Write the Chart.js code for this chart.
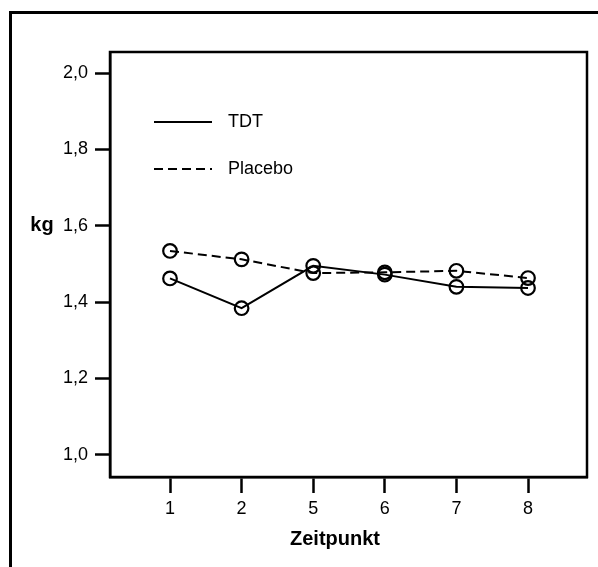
<!DOCTYPE html>
<html><head><meta charset="utf-8">
<script src="https://cdn.jsdelivr.net/npm/chart.js@4/dist/chart.umd.min.js"></script>
<style>html,body{margin:0;padding:0;background:#fff;overflow:hidden}#wrap{width:598px;height:567px;position:relative}</style>
</head><body><div id="wrap"><canvas id="c" width="598" height="567"></canvas></div>
<script>
const categories = ['1', '2', '5', '6', '7', '8'];
const tdtValues = [1.462, 1.384, 1.495, 1.472, 1.440, 1.437];
const placeboValues = [1.534, 1.512, 1.476, 1.478, 1.482, 1.463];
const yTickValues = [1.0, 1.2, 1.4, 1.6, 1.8, 2.0];
const seriesNames = ['TDT', 'Placebo'];
const xTitle = 'Zeitpunkt';
const yTitle = 'kg';

const FONT = 'Arial, "Liberation Sans", Helvetica, sans-serif';

const decorPlugin = {
  id: 'decor',
  afterDraw(chart) {
    const ctx = chart.ctx;
    const a = chart.chartArea;
    const ys = chart.scales.y;
    ctx.save();
    // outer border (left and top)
    ctx.strokeStyle = '#000';
    ctx.lineWidth = 3;
    ctx.beginPath();
    ctx.moveTo(10.5, 600);
    ctx.lineTo(10.5, 12.5);
    ctx.lineTo(610, 12.5);
    ctx.stroke();
    // plot frame
    ctx.lineWidth = 2.5;
    ctx.strokeRect(a.left, a.top, a.right - a.left, a.bottom - a.top);
    // axis titles
    ctx.fillStyle = '#000';
    ctx.font = 'bold 20px ' + FONT;
    ctx.textAlign = 'center';
    ctx.textBaseline = 'middle';
    ctx.fillText(yTitle, 42, ys.getPixelForValue(1.6));
    ctx.fillText(xTitle, 335, 539);
    // legend
    ctx.font = '18px ' + FONT;
    ctx.textAlign = 'left';
    ctx.lineWidth = 2;
    const legendRows = [{y: 122, dash: []}, {y: 169, dash: [9, 5]}];
    legendRows.forEach((r, i) => {
      ctx.setLineDash(r.dash);
      ctx.beginPath();
      ctx.moveTo(154, r.y);
      ctx.lineTo(212, r.y);
      ctx.stroke();
      ctx.setLineDash([]);
      ctx.fillText(seriesNames[i], 228, r.y);
    });
    ctx.restore();
  }
};

const tickFont = {family: FONT, size: 18};

new Chart(document.getElementById('c'), {
  type: 'line',
  data: {
    datasets: [
      {
        label: seriesNames[0],
        data: tdtValues.map((v, i) => ({x: i, y: v})),
        borderColor: '#000', borderWidth: 2, tension: 0,
        pointRadius: 6.8, pointBorderWidth: 2.2,
        pointBackgroundColor: 'rgba(0,0,0,0)', pointBorderColor: '#000'
      },
      {
        label: seriesNames[1],
        data: placeboValues.map((v, i) => ({x: i, y: v})),
        borderColor: '#000', borderWidth: 2, borderDash: [9, 5], tension: 0,
        pointRadius: 6.8, pointBorderWidth: 2.2,
        pointBackgroundColor: 'rgba(0,0,0,0)', pointBorderColor: '#000'
      }
    ]
  },
  options: {
    responsive: false,
    animation: false,
    devicePixelRatio: 1,
    layout: {padding: {left: 0, top: 52, right: 11, bottom: 0}},
    plugins: {legend: {display: false}, tooltip: {enabled: false}},
    scales: {
      x: {
        type: 'linear',
        min: -0.838, max: 5.824,
        afterBuildTicks: s => { s.ticks = categories.map((_, i) => ({value: i})); },
        afterFit: s => { s.height = 90; },
        ticks: {
          callback: v => categories[v],
          font: tickFont, color: '#000', padding: 5,
          maxRotation: 0, autoSkip: false
        },
        grid: {drawOnChartArea: false, drawTicks: true, tickLength: 16, tickColor: '#000', tickWidth: 2.5},
        border: {display: true, color: '#000', width: 2.5}
      },
      y: {
        type: 'linear',
        min: 0.942, max: 2.055,
        afterBuildTicks: s => { s.ticks = yTickValues.map(v => ({value: v})); },
        afterFit: s => { s.width = 110; },
        ticks: {
          callback: v => v.toFixed(1).replace('.', ','),
          font: tickFont, color: '#000', padding: 7
        },
        grid: {drawOnChartArea: false, drawTicks: true, tickLength: 15, tickColor: '#000', tickWidth: 2.5},
        border: {display: true, color: '#000', width: 2.5}
      }
    }
  },
  plugins: [decorPlugin]
});
</script>
</body></html>
